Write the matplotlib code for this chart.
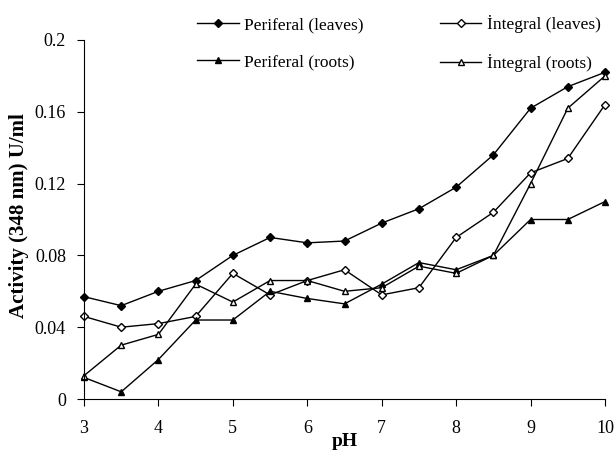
import matplotlib.pyplot as plt

plt.rcParams['font.family'] = ['Liberation Serif', 'DejaVu Serif']

ph = [3, 3.5, 4, 4.5, 5, 5.5, 6, 6.5, 7, 7.5, 8, 8.5, 9, 9.5, 10]

# activity values
per_leaves = [0.057, 0.052, 0.060, 0.066, 0.080, 0.090, 0.087, 0.088, 0.098, 0.106,
              0.118, 0.136, 0.162, 0.174, 0.182]
int_leaves = [0.046, 0.040, 0.042, 0.046, 0.070, 0.058, 0.066, 0.072, 0.058, 0.062,
              0.090, 0.104, 0.126, 0.134, 0.164]
per_roots = [0.012, 0.004, 0.022, 0.044, 0.044, 0.060, 0.056, 0.053, 0.064, 0.076,
             0.072, 0.080, 0.100, 0.100, 0.110]
int_roots = [0.013, 0.030, 0.036, 0.064, 0.054, 0.066, 0.066, 0.060, 0.062, 0.074,
             0.070, 0.080, 0.120, 0.162, 0.180]

fig = plt.figure(figsize=(6.15, 4.55), dpi=100)
ax = fig.add_axes([84 / 615, 1 - 399 / 455, 521 / 615, 359 / 455])

kw = dict(color='black', linewidth=1.0, clip_on=False)
l1, = ax.plot(ph, per_leaves, marker='D', markersize=4.5, markerfacecolor='black',
              label='Periferal (leaves)', **kw)
l2, = ax.plot(ph, int_leaves, marker='D', markersize=4.5, markerfacecolor='white',
              label='İntegral (leaves)', **kw)
l3, = ax.plot(ph, per_roots, marker='^', markersize=5, markerfacecolor='black',
              label='Periferal (roots)', **kw)
l4, = ax.plot(ph, int_roots, marker='^', markersize=5, markerfacecolor='white',
              label='İntegral (roots)', **kw)

ax.set_xlim(3, 10)
ax.set_ylim(0, 0.2)
ax.set_xticks([3, 4, 5, 6, 7, 8, 9, 10])
ax.set_yticks([0, 0.04, 0.08, 0.12, 0.16, 0.2])
ax.set_yticklabels(['0', '0.04', '0.08', '0.12', '0.16', '0.2'])
ax.spines['top'].set_visible(False)
ax.spines['right'].set_visible(False)
ax.tick_params(direction='out', length=5, labelsize=13, colors='black')
ax.tick_params(axis='x', pad=10)
ax.tick_params(axis='y', pad=8)
ax.set_xlabel('pH', fontsize=14, fontweight='bold')
ax.xaxis.set_label_coords(0.5, -0.095)
ax.set_ylabel('Activity (348 nm) U/ml', fontsize=15, fontweight='bold')
ax.yaxis.set_label_coords(-0.105, 0.51)

# legend: rows are leaves / roots, columns periferal / integral
fig.legend(handles=[l1, l3, l2, l4], loc='upper left', bbox_to_anchor=(190 / 615, 1 - 8 / 455),
           ncol=2, frameon=False, fontsize=12.5, handlelength=2.4, handletextpad=0.3,
           columnspacing=4.4, labelspacing=1.2, borderaxespad=0)

fig.savefig('out.png', dpi=100)
